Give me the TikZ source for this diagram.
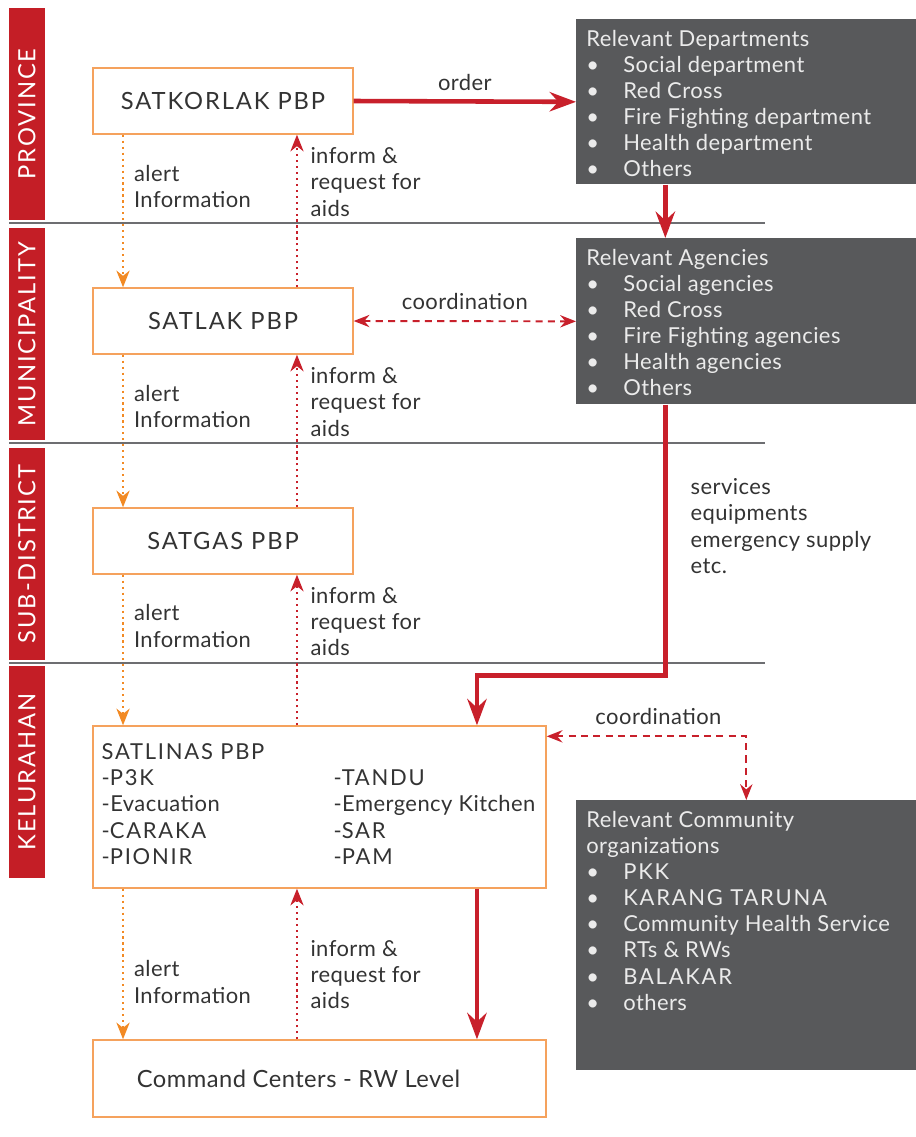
\documentclass[tikz,border=0pt]{standalone}
\usepackage{fontspec}
\setmainfont{Lato}[LetterSpace=2]
\usetikzlibrary{arrows.meta,positioning,calc}

\definecolor{bandred}{HTML}{C41E26}
\definecolor{linered}{HTML}{C8202B}
\definecolor{boxorange}{HTML}{F5A25D}
\definecolor{arroworange}{HTML}{F28A24}
\definecolor{panelgray}{HTML}{58595B}
\definecolor{rulegray}{HTML}{6D6E71}
\definecolor{inktext}{HTML}{333333}

\newcommand{\wide}[1]{{\addfontfeature{LetterSpace=8}#1}}
\newcommand{\itm}[1]{\makebox[0.74cm][l]{\textbullet}#1}

\tikzset{
  band/.style={fill=bandred, text=white, rotate=90, minimum width=4.24cm,
    minimum height=0.72cm, inner sep=0pt, font=\fontsize{13.5}{16}\selectfont},
  unit/.style={draw=boxorange, line width=0.8pt, fill=white, text=inktext,
    minimum width=5.2cm, minimum height=1.32cm, inner sep=0pt,
    font=\fontsize{13.5}{16}\selectfont},
  panel/.style={fill=panelgray, minimum width=6.8cm, inner sep=0pt, anchor=north west},
  paneltext/.style={text=white!92!black, align=left, anchor=north west, inner sep=0pt,
    font=\fontsize{12.5}{14.9}\selectfont},
  note/.style={text=inktext, align=left, inner sep=0pt, font=\fontsize{12.5}{14.9}\selectfont},
  rule/.style={rulegray, line width=1.1pt},
  mainflow/.style={linered, line width=2.6pt, -{Stealth[length=15pt,width=11pt,inset=5pt]}},
  coordline/.style={linered, line width=1.1pt, dash pattern=on 4pt off 3pt,
    {Stealth[length=9pt,width=7pt,inset=3pt]}-{Stealth[length=9pt,width=7pt,inset=3pt]}},
  alertline/.style={arroworange, line width=1.2pt, dash pattern=on 1.2pt off 2.2pt,
    -{Stealth[length=9.5pt,width=7.5pt,inset=3pt]}},
  informline/.style={linered, line width=1.2pt, dash pattern=on 1.2pt off 2.2pt,
    -{Stealth[length=9.5pt,width=7.5pt,inset=3pt]}}
}

\begin{document}
\begin{tikzpicture}[x=0.02cm, y=-0.02cm]
  \useasboundingbox (0,0) rectangle (916,1137);

  % level bands
  \node[band] (province) at (27,114) {\wide{PROVINCE}};
  \node[band] (municipality) at (27,334) {\wide{MUNICIPALITY}};
  \node[band] (subdistrict) at (27,554) {\wide{SUB-DISTRICT}};
  \node[band] (kelurahan) at (27,772) {\wide{KELURAHAN}};
  \foreach \y in {223,443,663}
    \draw[rule] (9,\y) -- (765,\y);

  % command units
  \node[unit] (satkorlak) at (223,101) {\wide{SATKORLAK PBP}};
  \node[unit] (satlak) at (223,321) {\wide{SATLAK PBP}};
  \node[unit] (satgas) at (223,541) {\wide{SATGAS PBP}};
  \node[unit, minimum width=9.06cm, minimum height=3.24cm] (satlinas) at (319.5,807) {};
  \node[note, anchor=north west] (satlinaslist) at ([shift={(0.18cm,-0.31cm)}]satlinas.north west)
    {\begin{tabular}{@{}p{4.64cm}@{}l@{}}
      \wide{SATLINAS PBP} & \\
      -\wide{P3K} & -\wide{TANDU} \\
      -Evacuation & -Emergency Kitchen \\
      -\wide{CARAKA} & -\wide{SAR} \\
      -\wide{PIONIR} & -\wide{PAM}
    \end{tabular}};
  \node[unit, minimum width=9.06cm, minimum height=1.54cm] (command) at (319.5,1078.5)
    {\kern-0.84cm Command Centers - RW Level};

  % support panels
  \node[panel, minimum height=3.3cm] (depts) at (576,19) {};
  \node[paneltext] (deptslist) at ([shift={(0.2cm,-0.21cm)}]depts.north west)
    {Relevant Departments\\ \itm{Social department}\\ \itm{Red Cross}\\
     \itm{Fire Fighting department}\\ \itm{Health department}\\ \itm{Others}};
  \node[panel, minimum height=3.32cm] (agencies) at (576,238) {};
  \node[paneltext] (agencieslist) at ([shift={(0.2cm,-0.21cm)}]agencies.north west)
    {Relevant Agencies\\ \itm{Social agencies}\\ \itm{Red Cross}\\
     \itm{Fire Fighting agencies}\\ \itm{Health agencies}\\ \itm{Others}};
  \node[panel, minimum height=5.4cm] (community) at (576,800) {};
  \node[paneltext] (communitylist) at ([shift={(0.2cm,-0.21cm)}]community.north west)
    {Relevant Community\\ organizations\\ \itm{\wide{PKK}}\\ \itm{\wide{KARANG TARUNA}}\\
     \itm{Community Health Service}\\ \itm{RTs \& RWs}\\ \itm{\wide{BALAKAR}}\\ \itm{others}};

  % main flow
  \coordinate (feed) at ([xshift=-1.62cm]depts.south);
  \coordinate (trunk) at ([xshift=3.15cm]satlinas.north);
  \draw[mainflow] (satkorlak.east) -- (depts.west)
    node[midway, above=5pt, note] {order};
  \draw[mainflow] (feed) -- (feed |- agencies.north);
  \draw[mainflow] (feed |- agencies.south) |- ([yshift=1cm]trunk) -- (trunk);
  \node[note, anchor=west] (supplies) at ([shift={(0.5cm,-2.43cm)}]feed |- agencies.south)
    {services\\equipments\\emergency supply\\etc.};
  \draw[mainflow] (trunk |- satlinas.south) -- (trunk |- command.north);

  % coordination
  \draw[coordline] (satlak.east) -- (agencies.west)
    node[midway, above=6pt, note] {coordination};
  \draw[coordline] ([yshift=-0.22cm]satlinas.north east) -| (community.north)
    node[pos=0.28, above=6pt, note] {coordination};

  % alerts down, requests up
  \coordinate (alertx) at ([xshift=-2cm]satkorlak.south);
  \coordinate (informx) at ([xshift=1.48cm]satkorlak.south);
  \foreach \a/\b/\pa/\pi in {satkorlak/satlak/0.34/0.69, satlak/satgas/0.34/0.69,
      satgas/satlinas/0.34/0.69, satlinas/command/0.62/0.43} {
    \draw[alertline] (alertx |- \a.south) -- (alertx |- \b.north)
      node[pos=\pa, right=0.2cm, note] {alert\\Information};
    \draw[informline] (informx |- \b.north) -- (informx |- \a.south)
      node[pos=\pi, right=0.25cm, note] {inform \&\\request for\\aids};
  }
\end{tikzpicture}
\end{document}
